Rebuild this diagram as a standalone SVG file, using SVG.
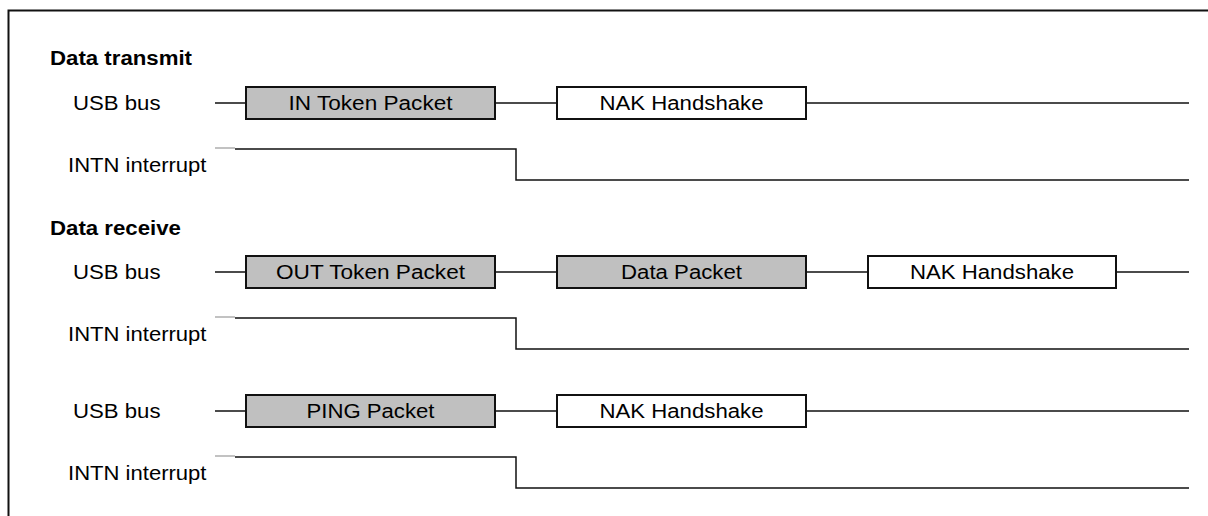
<svg xmlns="http://www.w3.org/2000/svg" width="1208" height="516" viewBox="0 0 1208 516">
<style>
text{font-family:"Liberation Sans",Arial,sans-serif;font-size:20px;fill:#000}
.h{font-weight:bold}
.c{text-anchor:middle}
.pk{fill:#c0c0c0;stroke:#111;stroke-width:2}
.hs{fill:#fff;stroke:#111;stroke-width:2}
.ln{fill:none;stroke:#111;stroke-width:1.5}
.gl{fill:none;stroke:#999;stroke-width:1.2}
</style>
<rect x="8.5" y="10.5" width="1210" height="520" fill="#fff" stroke="#111" stroke-width="2"/>
<g id="headings">
<text class="h" x="50" y="65" textLength="142" lengthAdjust="spacingAndGlyphs">Data transmit</text>
<text class="h" x="50" y="235" textLength="131" lengthAdjust="spacingAndGlyphs">Data receive</text>
</g>
<g id="labels">
<text x="73" y="110" textLength="87.5" lengthAdjust="spacingAndGlyphs">USB bus</text>
<text x="68" y="172" textLength="138.5" lengthAdjust="spacingAndGlyphs">INTN interrupt</text>
<text x="73" y="279" textLength="87.5" lengthAdjust="spacingAndGlyphs">USB bus</text>
<text x="68" y="341" textLength="138.5" lengthAdjust="spacingAndGlyphs">INTN interrupt</text>
<text x="73" y="418" textLength="87.5" lengthAdjust="spacingAndGlyphs">USB bus</text>
<text x="68" y="480" textLength="138.5" lengthAdjust="spacingAndGlyphs">INTN interrupt</text>
</g>
<g id="connectors">
<path class="ln" d="M215 103H246M495 103H557M806 103H1189"/>
<path class="gl" d="M215 148H235"/>
<path class="ln" d="M235 149H516V180H1189"/>
<path class="ln" d="M215 272H246M495 272H557M806 272H868M1116 272H1189"/>
<path class="gl" d="M215 317H235"/>
<path class="ln" d="M235 318H516V349H1189"/>
<path class="ln" d="M215 411H246M495 411H557M806 411H1189"/>
<path class="gl" d="M215 456H235"/>
<path class="ln" d="M235 457H516V488H1189"/>
</g>
<g id="in-token"><rect class="pk" x="246" y="87" width="249" height="32"/><text class="c" x="370.5" y="110" textLength="164" lengthAdjust="spacingAndGlyphs">IN Token Packet</text></g>
<g id="nak-1"><rect class="hs" x="557" y="87" width="249" height="32"/><text class="c" x="681.5" y="110" textLength="164" lengthAdjust="spacingAndGlyphs">NAK Handshake</text></g>
<g id="out-token"><rect class="pk" x="246" y="256" width="249" height="32"/><text class="c" x="370.5" y="279" textLength="189" lengthAdjust="spacingAndGlyphs">OUT Token Packet</text></g>
<g id="data-packet"><rect class="pk" x="557" y="256" width="249" height="32"/><text class="c" x="681.5" y="279" textLength="121" lengthAdjust="spacingAndGlyphs">Data Packet</text></g>
<g id="nak-2"><rect class="hs" x="868" y="256" width="248" height="32"/><text class="c" x="992" y="279" textLength="164" lengthAdjust="spacingAndGlyphs">NAK Handshake</text></g>
<g id="ping"><rect class="pk" x="246" y="395" width="249" height="32"/><text class="c" x="370.5" y="418" textLength="128" lengthAdjust="spacingAndGlyphs">PING Packet</text></g>
<g id="nak-3"><rect class="hs" x="557" y="395" width="249" height="32"/><text class="c" x="681.5" y="418" textLength="164" lengthAdjust="spacingAndGlyphs">NAK Handshake</text></g>
</svg>
